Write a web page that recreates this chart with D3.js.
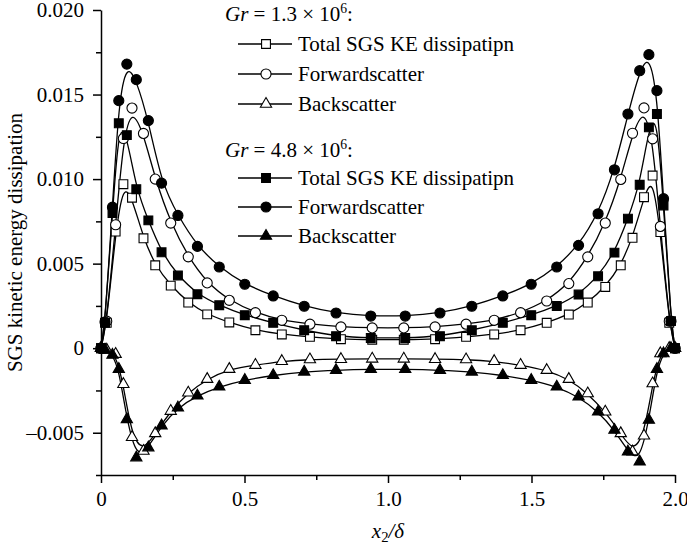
<!DOCTYPE html>
<html>
<head>
<meta charset="utf-8">
<script src="https://cdn.jsdelivr.net/npm/d3@7"></script>
<style>
  body { margin: 0; background: #fff; }
  svg text { font-family: "Liberation Serif", "Times New Roman", serif !important; fill: #000; }
</style>
</head>
<body>
<svg id="chart" width="687" height="548"></svg>
<script>
// x2/delta positions, Gr = 1.3e6 (open markers)
var xLow = [0, 0.02, 0.051, 0.078, 0.108, 0.148, 0.189, 0.243, 0.304, 0.370, 0.447, 0.538, 0.630, 0.728, 0.836, 0.945,
  1.055, 1.164, 1.272, 1.370, 1.462, 1.553, 1.630, 1.696, 1.757, 1.811, 1.852, 1.892, 1.922, 1.949, 1.980, 2.0];
var totalLow = [0, 0.0015, 0.0069, 0.0097, 0.0089, 0.0065, 0.0049, 0.0037, 0.0027, 0.0020, 0.00152, 0.00106, 0.00081, 0.00067, 0.00053, 0.0005,
  0.0005, 0.00053, 0.00067, 0.00081, 0.00106, 0.0015, 0.00199, 0.0027, 0.00362, 0.0049, 0.00653, 0.00893, 0.01021, 0.00687, 0.0015, 0];
var forwardLow = [0, 0.0016, 0.0073, 0.0124, 0.0142, 0.0127, 0.0100, 0.0074, 0.0054, 0.00386, 0.00283, 0.0021, 0.00165, 0.00142, 0.00126, 0.0012,
  0.0012, 0.00126, 0.00142, 0.00165, 0.0021, 0.00279, 0.00382, 0.0054, 0.0074, 0.00998, 0.01271, 0.01421, 0.01238, 0.0072, 0.0016, 0];
var backLow = [0, -0.0001, -0.00035, -0.00213, -0.00527, -0.00608, -0.00504, -0.00372, -0.00264, -0.00183, -0.00124, -0.0010, -0.00077, -0.00067, -0.00065, -0.00063,
  -0.00063, -0.00065, -0.00067, -0.00077, -0.001, -0.0013, -0.00183, -0.00268, -0.00376, -0.00504, -0.00612, -0.00518, -0.00209, -0.00031, 0, 0];

// x2/delta positions, Gr = 4.8e6 (filled markers)
var xHigh = [0, 0.014, 0.040, 0.062, 0.090, 0.123, 0.165, 0.211, 0.268, 0.336, 0.412, 0.501, 0.600, 0.708, 0.819, 0.940,
  1.060, 1.181, 1.292, 1.400, 1.499, 1.588, 1.664, 1.732, 1.789, 1.836, 1.877, 1.909, 1.937, 1.960, 1.986, 2.0];
var totalHigh = [0, 0.0015, 0.0080, 0.0133, 0.0126, 0.0094, 0.00756, 0.00567, 0.0043, 0.00319, 0.00254, 0.00195, 0.0015, 0.00106, 0.00071, 0.0006,
  0.0006, 0.00071, 0.00106, 0.0015, 0.00195, 0.0025, 0.00317, 0.00425, 0.00565, 0.00766, 0.00966, 0.01306, 0.01385, 0.00844, 0.0016, 0];
var forwardHigh = [0, 0.00155, 0.00834, 0.01464, 0.0168, 0.01588, 0.01346, 0.00976, 0.00785, 0.00602, 0.0048, 0.00378, 0.00309, 0.00248, 0.00208, 0.0019,
  0.0019, 0.00208, 0.00248, 0.00309, 0.00378, 0.0048, 0.00608, 0.00795, 0.01055, 0.01385, 0.01641, 0.01736, 0.01523, 0.00884, 0.0016, 0];
var backHigh = [0, -0.0001, -0.0004, -0.00124, -0.00421, -0.00647, -0.00588, -0.00458, -0.00352, -0.00281, -0.00228, -0.00189, -0.0016, -0.0014, -0.0013, -0.00125,
  -0.00125, -0.0013, -0.0014, -0.0016, -0.00189, -0.00228, -0.00287, -0.00376, -0.00484, -0.00612, -0.00671, -0.00425, -0.00124, -0.00031, 0, 0];

var xTicks = [0, 0.5, 1.0, 1.5, 2.0];
var xMinor = [0.25, 0.75, 1.25, 1.75];
var yTicks = [-0.005, 0, 0.005, 0.010, 0.015, 0.020];
var yMinor = [-0.0075, -0.0025, 0.0025, 0.0075, 0.0125, 0.0175];

var labels = ["Total SGS KE dissipatipn", "Forwardscatter", "Backscatter"];

var svg = d3.select("#chart");
var fontSize = 21;
var serif = '"Liberation Serif", "Times New Roman", serif';

var x = d3.scaleLinear().domain([0, 2]).range([101, 675]);
var y = d3.scaleLinear().domain([-0.0075, 0.020]).range([475, 10]);

var fmtY = function (d) {
  if (d === 0) return "0";
  return (d < 0 ? "\u2013" : "") + Math.abs(d).toFixed(3);
};
var fmtX = function (d) { return d === 0 ? "0" : d.toFixed(1); };

// axes
var gx = svg.append("g").attr("transform", "translate(0," + y(-0.0075) + ")");
gx.call(d3.axisBottom(x).tickValues(xTicks).tickFormat(fmtX).tickSize(8).tickSizeOuter(0).tickPadding(8));
gx.append("g").call(d3.axisBottom(x).tickValues(xMinor).tickFormat("").tickSize(5).tickSizeOuter(0))
  .select(".domain").remove();

var gy = svg.append("g").attr("transform", "translate(" + x(0) + ",0)");
gy.call(d3.axisLeft(y).tickValues(yTicks).tickFormat(fmtY).tickSize(8).tickSizeOuter(0).tickPadding(9));
gy.append("g").call(d3.axisLeft(y).tickValues(yMinor).tickFormat("").tickSize(5).tickSizeOuter(0))
  .select(".domain").remove();

svg.selectAll(".domain, .tick line").attr("stroke", "#000").attr("stroke-width", 1.5);
svg.selectAll("g").attr("font-family", serif);
svg.selectAll(".tick text").attr("font-size", fontSize).style("font-family", serif);

// axis titles
svg.append("text")
  .attr("transform", "translate(15," + ((y(0.020) + y(-0.0075)) / 2) + ") rotate(-90)")
  .attr("text-anchor", "middle").attr("dy", "0.35em")
  .attr("font-size", fontSize)
  .text("SGS kinetic energy dissipation");

var xt = svg.append("text")
  .attr("x", (x(0) + x(2)) / 2).attr("y", 538)
  .attr("text-anchor", "middle").attr("font-size", fontSize).attr("font-style", "italic");
xt.append("tspan").text("x");
xt.append("tspan").attr("font-size", fontSize * 0.7).attr("dy", 4).attr("font-style", "normal").text("2");
xt.append("tspan").attr("dy", -4).text("/\u03b4");

// series
var series = [
  { xs: xLow, ys: totalLow, sym: d3.symbolSquare, size: 78, fill: "#fff" },
  { xs: xLow, ys: forwardLow, sym: d3.symbolCircle, size: 80, fill: "#fff" },
  { xs: xLow, ys: backLow, sym: d3.symbolTriangle, size: 55, fill: "#fff" },
  { xs: xHigh, ys: totalHigh, sym: d3.symbolSquare, size: 78, fill: "#000" },
  { xs: xHigh, ys: forwardHigh, sym: d3.symbolCircle, size: 80, fill: "#000" },
  { xs: xHigh, ys: backHigh, sym: d3.symbolTriangle, size: 55, fill: "#000" }
];

var line = d3.line()
  .x(d => x(d[0]))
  .y(d => y(d[1]))
  .curve(d3.curveBasis);

series.forEach(function (s) {
  var pts = s.xs.map((v, i) => [v, s.ys[i]]);
  svg.append("path")
    .datum(pts)
    .attr("fill", "none").attr("stroke", "#000").attr("stroke-width", 1.3)
    .attr("d", line);
});

series.forEach(function (s) {
  var pts = s.xs.map((v, i) => [v, s.ys[i]]);
  svg.append("g").selectAll("path")
    .data(pts)
    .enter()
    .append("path")
    .attr("transform", d => "translate(" + x(d[0]) + "," + y(d[1]) + ")")
    .attr("d", d3.symbol().type(s.sym).size(s.size))
    .attr("fill", s.fill).attr("stroke", "#000").attr("stroke-width", 1.1);
});

// legend
function header(g, yPos, val) {
  var t = g.append("text").attr("x", 225).attr("y", yPos).attr("dy", "0.35em").attr("font-size", fontSize);
  t.append("tspan").attr("font-style", "italic").text("Gr");
  t.append("tspan").text(" = " + val + " \u00d7 10");
  t.append("tspan").attr("font-size", fontSize * 0.65).attr("dy", -8).text("6");
  t.append("tspan").attr("dy", 8).text(":");
}

function entries(g, rows, group) {
  rows.forEach(function (ry, i) {
    var s = series[group * 3 + i];
    g.append("line").attr("x1", 238).attr("x2", 292).attr("y1", ry).attr("y2", ry)
      .attr("stroke", "#000").attr("stroke-width", 1.3);
    g.append("path").attr("transform", "translate(266," + ry + ")")
      .attr("d", d3.symbol().type(s.sym).size(s.size))
      .attr("fill", s.fill).attr("stroke", "#000").attr("stroke-width", 1.1);
    g.append("text").attr("x", 298).attr("y", ry).attr("dy", "0.35em")
      .attr("font-size", fontSize).text(labels[i]);
  });
}

var lg = svg.append("g");
header(lg, 14, "1.3");
entries(lg, [44, 74, 104], 0);
header(lg, 150, "4.8");
entries(lg, [178, 207, 236], 1);
</script>
</body>
</html>
